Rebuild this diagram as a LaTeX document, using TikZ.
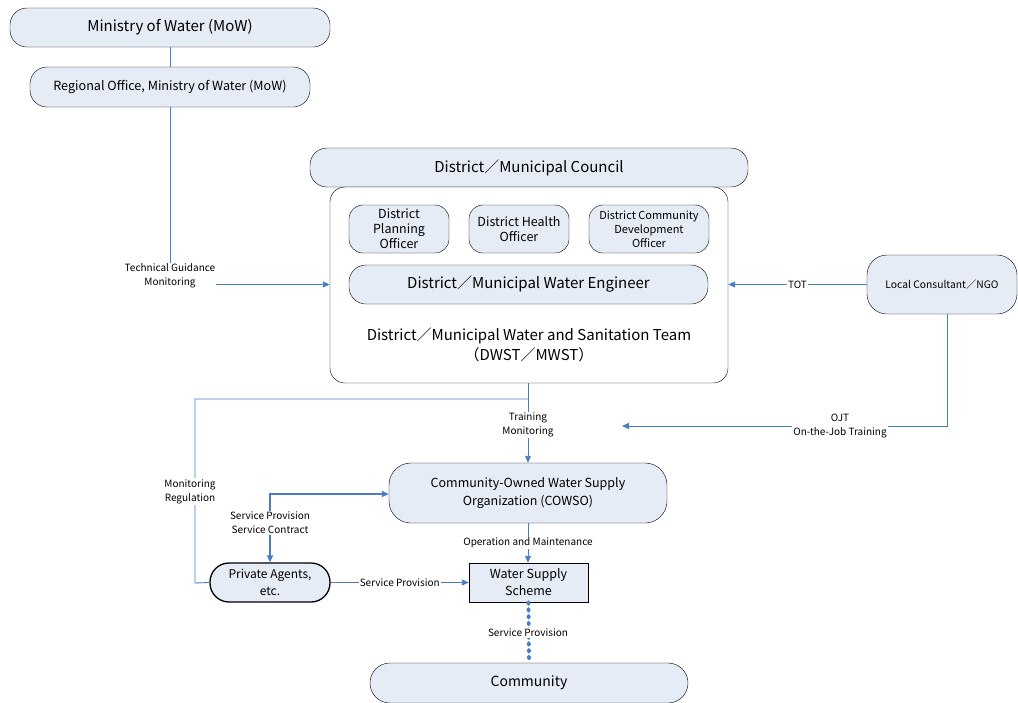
\documentclass[tikz,border=0pt]{standalone}
\usepackage{fontspec}
\setmainfont{Noto Sans CJK JP}
\usepackage{tikz}
\usetikzlibrary{positioning,
                arrows.meta}               % arrow tips

\definecolor{boxfill}{HTML}{E6ECF6}
\definecolor{linkblue}{HTML}{4A7CC4}

\tikzset{
    unit/.style={draw=black, fill=boxfill, rounded corners=17pt, align=center,
                 inner sep=1pt, font=\fontsize{15}{18}\selectfont},
    officer/.style={unit, rounded corners=14pt, minimum width=100pt, minimum height=48pt,
                 font=\fontsize{12.5}{15}\selectfont},
    lbl/.style={fill=white, inner sep=1pt, align=center, font=\fontsize{10}{14}\selectfont},
    link/.style={draw=linkblue, line width=0.9pt, -{Triangle[length=7pt,width=6pt]}},
    plainlink/.style={draw=linkblue, line width=0.9pt},
    contract/.style={draw=linkblue, line width=1.7pt,
                 {Triangle[length=7pt,width=6pt]}-{Triangle[length=7pt,width=6pt]}},
    served/.style={draw=linkblue, line width=3.8pt, line cap=round, dash pattern=on 1.8pt off 5pt}
}

\begin{document}
\begin{tikzpicture}[x=1pt, y=-1pt]
    \useasboundingbox (0,0) rectangle (1018,702);

    % national level
    \node[unit, minimum width=320pt, minimum height=39pt] (mow) at (170,27.5) {Ministry of Water (MoW)};
    \node[unit, minimum width=280pt, minimum height=40pt, font=\fontsize{12.6}{15}\selectfont]
        (regional) at (170,87) {Regional Office, Ministry of Water (MoW)};

    % district level
    \node[unit, minimum width=438pt, minimum height=39pt] (council) at (529,167.5) {District／Municipal Council};
    \node[draw=black, fill=white, rounded corners=15pt, minimum width=398pt, minimum height=196pt]
        (team) at (529,285) {};
    \node[officer] (planning) at (399,229) {District\\Planning\\Officer};
    \node[officer] (health) at (519,229) {District Health\\Officer};
    \node[officer, minimum width=120pt, font=\fontsize{11}{14}\selectfont] (cdo) at (649,229)
        {District Community\\Development\\Officer};
    \node[unit, minimum width=359pt, minimum height=39pt] (engineer) at (528.5,284.5)
        {District／Municipal Water Engineer};
    \node[align=center, font=\fontsize{15}{20}\selectfont] (teamname) at (529,345)
        {District／Municipal Water and Sanitation Team\\（DWST／MWST）};

    \node[unit, rounded corners=20pt, minimum width=150pt, minimum height=59pt,
          font=\fontsize{10.3}{12}\selectfont] (consultant) at (942,284.5) {Local Consultant／NGO};

    % community level
    \node[unit, rounded corners=22pt, minimum width=278pt, minimum height=60pt,
          font=\fontsize{12.5}{18}\selectfont] (cowso) at (528,493)
        {Community-Owned Water Supply\\Organization (COWSO)};
    \node[unit, rounded corners=19pt, line width=1.3pt, minimum width=120pt, minimum height=39pt,
          font=\fontsize{12}{17}\selectfont] (agents) at (270,582.5) {Private Agents,\\etc.};
    \node[draw=black, fill=boxfill, minimum width=119pt, minimum height=39pt, align=center,
          inner sep=1pt, font=\fontsize{12.5}{17}\selectfont] (scheme) at (528.5,582.5)
        {Water Supply\\Scheme};
    \node[unit, rounded corners=20pt, minimum width=318pt, minimum height=40pt,
          font=\fontsize{14}{17}\selectfont] (community) at (529,683) {Community};

    % connectors
    \draw[plainlink, line width=0.6pt] (mow) -- (regional);
    \draw[link] (regional.south) |- (team.west |- engineer);
    \node[lbl] (guidance) at (170,276) {Technical Guidance\\Monitoring};

    \draw[link] (consultant.west) -- node[lbl] (tot) {TOT} (team.east |- consultant.west);
    \coordinate (ojtend) at (622,426);
    \draw[link] (consultant.south -| 947,0) |- (ojtend);
    \node[lbl] (ojt) at (840,426) {OJT\\On-the-Job Training};

    \coordinate (split) at (528,399);
    \coordinate (regcorner) at (195,583);
    \draw[link] (team.south -| cowso) -- (cowso.north);
    \node[lbl] (training) at (528,425) {Training\\Monitoring};
    \draw[plainlink] (split) -| (regcorner) -- (agents.west);
    \node[lbl] (regulation) at (190,491.5) {Monitoring\\Regulation};

    \draw[contract] (cowso.west |- 0,494) -| (agents.north);
    \node[lbl] (contractlbl) at (270,523) {Service Provision\\Service Contract};

    \draw[link] (cowso.south) -- node[lbl] (om) {Operation and Maintenance} (scheme.north -| cowso);
    \draw[link] (agents.east) -- node[lbl] (provision) {Service Provision} (scheme.west);
    \draw[served] (scheme.south) -- (community.north);
    \node[lbl] (supply) at (528,633) {Service Provision};
\end{tikzpicture}
\end{document}
